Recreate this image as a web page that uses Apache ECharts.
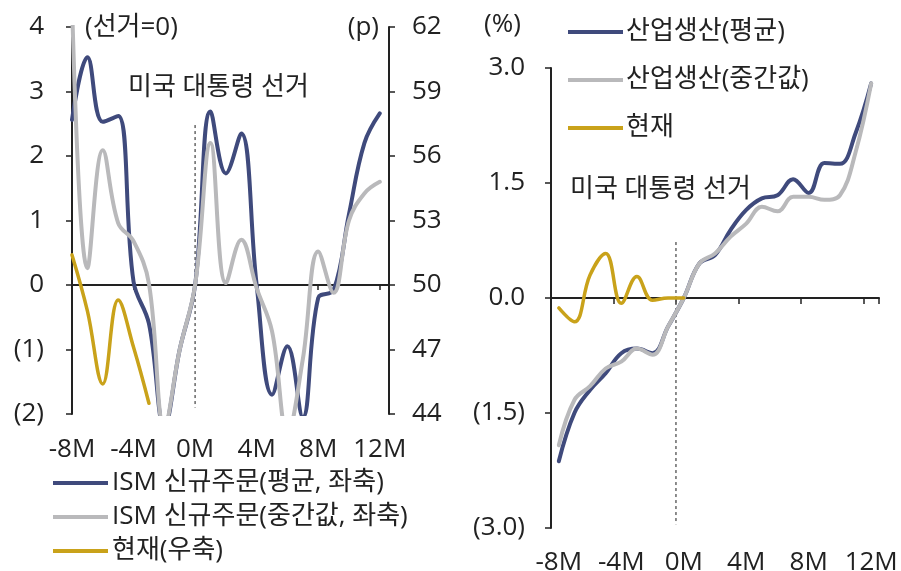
<!DOCTYPE html>
<html>
<head>
<meta charset="utf-8">
<script src="https://cdn.jsdelivr.net/npm/echarts@6.0.0/dist/echarts.min.js"></script>
<style>
  html, body { margin: 0; padding: 0; background: #fff; }
  #chart { width: 901px; height: 571px; }
</style>
</head>
<body>
<div id="chart"></div>
<script>
// 선거 전후 개월 (선거월 = 0)
const months = [-8, -7, -6, -5, -4, -3, -2, -1, 0, 1, 2, 3, 4, 5, 6, 7, 8, 9, 10, 11, 12];
const monthLabels = months.map(m => m + 'M');

// ISM 신규주문: 대선 전후 변화 (좌축)
const ismAvg    = [2.56, 3.53, 2.53, 2.62, 0.05, -0.6, -2.2, -1.0, 0, 2.69, 1.73, 2.35, 0.0, -1.7, -0.95, -2.05, -0.2, -0.08, 1.1, 2.2, 2.66];
const ismMedian = [4.4, 0.26, 2.09, 0.96, 0.68, 0.02, -2.2, -1.0, 0, 2.2, 0.03, 0.7, -0.05, -0.72, -2.3, -1.15, 0.52, -0.12, 1.0, 1.42, 1.6];
// 현재 ISM 신규주문 (우축, p): -8M ~ -3M
const ismNow    = [51.4, 48.8, 45.4, 49.3, 47.1, 44.5];

// 산업생산: 대선 전후 누적 변화 (%)
const ipAvg    = [-2.13, -1.5, -1.2, -0.98, -0.72, -0.66, -0.72, -0.37, 0, 0.45, 0.56, 0.89, 1.15, 1.3, 1.34, 1.55, 1.37, 1.76, 1.75, 2.15, 2.8];
const ipMedian = [-1.92, -1.33, -1.15, -0.92, -0.83, -0.66, -0.74, -0.37, 0, 0.45, 0.58, 0.8, 0.97, 1.19, 1.13, 1.32, 1.32, 1.28, 1.34, 1.9, 2.8];
// 현재 산업생산 (%): -8M ~ 0M
const ipNow    = [-0.13, -0.31, 0.3, 0.58, -0.07, 0.28, -0.03, 0.0, 0.0];

// 선거 시점 점선의 세로 범위 (각 패널의 y값)
const electionSpanLeft  = [2.48, -1.9];
const electionSpanRight = [0.73, -2.95];

// 계열 이름
const leftNames  = ['ISM 신규주문(평균, 좌축)', 'ISM 신규주문(중간값, 좌축)', '현재(우축)'];
const rightNames = ['산업생산(평균)', '산업생산(중간값)', '현재'];

const FONT = "'Open Sans', 'Noto Sans CJK KR', sans-serif";
const TEXT = '#222';
const AXIS = '#222';
const NAVY = '#3f4a7c';
const GREY = '#b9b9bb';
const GOLD = '#c9a21a';
const FS = 26;

const labelStyle = { color: TEXT, fontSize: FS, fontFamily: FONT };
const axisLine = { show: true, onZero: false, lineStyle: { color: AXIS, width: 2 } };
const tickStyle = { show: true, length: 6, lineStyle: { color: AXIS, width: 1.5 } };
const paren = (v, d) => v < 0 ? '(' + (-v).toFixed(d) + ')' : v.toFixed(d);

const chart = echarts.init(document.getElementById('chart'), null, { renderer: 'canvas' });

const lineSeries = (name, data, color, width, xi, yi, z) => ({
  name, type: 'line', data, xAxisIndex: xi, yAxisIndex: yi,
  smooth: 0.4, symbol: 'none', z,
  lineStyle: { color, width, cap: 'round', join: 'round' },
  itemStyle: { color }, emphasis: { disabled: true }
});

const dashed = (data, xi, yi) => ({
  type: 'line', data, xAxisIndex: xi, yAxisIndex: yi, symbol: 'none', silent: true, z: 1,
  lineStyle: { color: '#666', width: 1.5, type: [3, 3] }
});

const text = (x, y, str, align) => ({
  type: 'text', silent: true,
  style: { x, y, text: str, fill: TEXT, fontSize: FS, fontFamily: FONT, align: align || 'left', verticalAlign: 'middle' }
});

const option = {
  animation: false,
  backgroundColor: '#fff',
  textStyle: { fontFamily: FONT },
  grid: [
    { left: 72, width: 317, top: 27, height: 387, outerBoundsMode: 'none', containLabel: false },
    { left: 551, width: 328, top: 68, height: 460, outerBoundsMode: 'none', containLabel: false }
  ],
  xAxis: [
    // 왼쪽: 눈금 라벨 (하단)
    { gridIndex: 0, type: 'value', min: -8, max: 12.6, interval: 4, position: 'bottom',
      axisLine: { show: false, onZero: false }, axisTick: { show: false }, splitLine: { show: false },
      axisLabel: { ...labelStyle, margin: 23, showMaxLabel: false,
        formatter: v => Number.isInteger(v) ? v + 'M' : '' } },
    // 왼쪽: 0 기준선
    { gridIndex: 0, type: 'value', min: -8, max: 12.6, interval: 4, position: 'bottom',
      axisLine: { ...axisLine, onZero: true }, axisTick: { ...tickStyle, length: 5 },
      axisLabel: { show: false }, splitLine: { show: false } },
    // 오른쪽: 눈금 라벨 (하단)
    { gridIndex: 1, type: 'category', data: monthLabels, boundaryGap: true, position: 'bottom',
      axisLine: { show: false, onZero: false }, axisTick: { show: false },
      axisLabel: { ...labelStyle, margin: 22, interval: 3 } },
    // 오른쪽: 0 기준선
    { gridIndex: 1, type: 'category', data: monthLabels, boundaryGap: true, position: 'bottom',
      axisLine: { ...axisLine, onZero: true }, axisTick: { ...tickStyle, interval: 3 },
      axisLabel: { show: false } },
    // 오른쪽: 월 경계 위치용 보조축
    { gridIndex: 1, type: 'value', min: -8.5, max: 12.5, show: false }
  ],
  yAxis: [
    { gridIndex: 0, type: 'value', position: 'left', min: -2, max: 4, interval: 1,
      axisLine, axisTick: tickStyle, splitLine: { show: false },
      axisLabel: { ...labelStyle, margin: 28, formatter: v => paren(v, 0) } },
    { gridIndex: 0, type: 'value', position: 'right', min: 44, max: 62, interval: 3,
      axisLine, axisTick: tickStyle, splitLine: { show: false },
      axisLabel: { ...labelStyle, margin: 23 } },
    { gridIndex: 1, type: 'value', position: 'left', min: -3, max: 3, interval: 1.5,
      axisLine, axisTick: tickStyle, splitLine: { show: false },
      axisLabel: { ...labelStyle, margin: 26, formatter: v => paren(v, 1) } }
  ],
  legend: [
    { orient: 'vertical', left: 53, top: 470, padding: 0, itemGap: 8, itemWidth: 55, itemHeight: 4, icon: 'rect',
      data: leftNames, textStyle: { ...labelStyle, padding: [0, 0, 0, -1] }, selectedMode: false },
    { orient: 'vertical', left: 568, top: 19, padding: 0, itemGap: 22, itemWidth: 55, itemHeight: 4, icon: 'rect',
      data: rightNames, textStyle: { ...labelStyle, padding: [0, 0, 0, -2] }, selectedMode: false }
  ],
  graphic: [
    text(85, 28, '(선거=0)'),
    text(379, 28, '(p)', 'right'),
    text(128, 88, '미국 대통령 선거'),
    text(484, 25, '(%)'),
    text(570, 190, '미국 대통령 선거')
  ],
  series: [
    dashed([[0, electionSpanLeft[0]], [0, electionSpanLeft[1]]], 0, 0),
    lineSeries(leftNames[0], months.map((m, i) => [m, ismAvg[i]]), NAVY, 4, 0, 0, 3),
    lineSeries(leftNames[1], months.map((m, i) => [m, ismMedian[i]]), GREY, 4, 0, 0, 4),
    lineSeries(leftNames[2], ismNow.map((v, i) => [months[i], v]), GOLD, 3.5, 0, 1, 5),

    dashed([[-0.5, electionSpanRight[0]], [-0.5, electionSpanRight[1]]], 4, 2),
    lineSeries(rightNames[0], ipAvg, NAVY, 4, 2, 2, 3),
    lineSeries(rightNames[1], ipMedian, GREY, 4, 2, 2, 4),
    lineSeries(rightNames[2], ipNow, GOLD, 3.5, 2, 2, 5)
  ]
};

chart.setOption(option);
</script>
</body>
</html>
